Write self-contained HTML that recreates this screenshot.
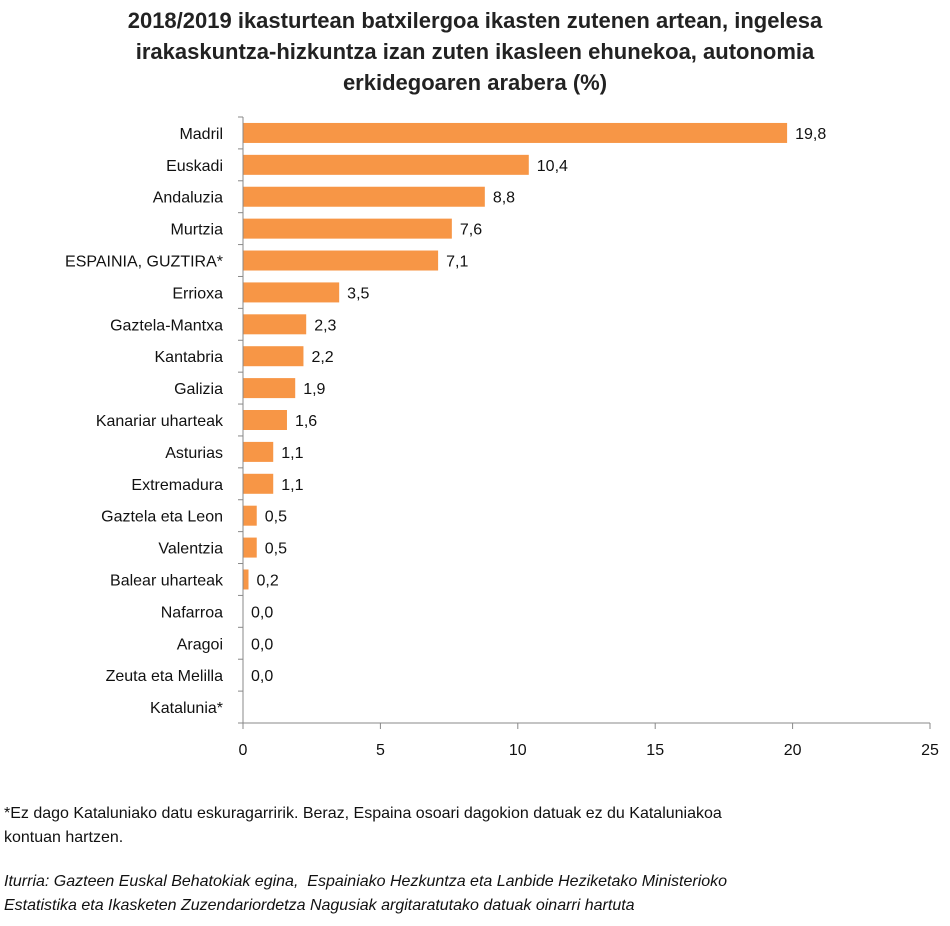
<!DOCTYPE html>
<html><head><meta charset="utf-8"><style>
body{margin:0;background:#fff;font-family:"Liberation Sans",sans-serif;}
#wrap{position:relative;width:950px;height:926px;overflow:hidden}
.title{position:absolute;left:0;width:950px;top:5px;text-align:center;font-weight:bold;font-size:22px;line-height:31px;color:#222}
.note{position:absolute;left:4px;font-size:16px;line-height:24px;color:#111}
</style></head><body>
<div id="wrap">
<div class="title">2018/2019 ikasturtean batxilergoa ikasten zutenen artean, ingelesa<br>irakaskuntza-hizkuntza izan zuten ikasleen ehunekoa, autonomia<br>erkidegoaren arabera (%)</div>
<svg id="svg" width="950" height="780" style="position:absolute;left:0;top:0"></svg>
<div class="note" style="top:802px">*Ez dago Kataluniako datu eskuragarririk. Beraz, Espaina osoari dagokion datuak ez du Kataluniakoa<br>kontuan hartzen.</div>
<div class="note" style="top:870px;font-style:italic">Iturria: Gazteen Euskal Behatokiak egina,&nbsp; Espainiako Hezkuntza eta Lanbide Heziketako Ministerioko<br>Estatistika eta Ikasketen Zuzendariordetza Nagusiak argitaratutako datuak oinarri hartuta</div>
</div>
<script>
const categories=["Madril","Euskadi","Andaluzia","Murtzia","ESPAINIA, GUZTIRA*","Errioxa","Gaztela-Mantxa","Kantabria","Galizia","Kanariar uharteak","Asturias","Extremadura","Gaztela eta Leon","Valentzia","Balear uharteak","Nafarroa","Aragoi","Zeuta eta Melilla","Katalunia*"];
const values=[19.8,10.4,8.8,7.6,7.1,3.5,2.3,2.2,1.9,1.6,1.1,1.1,0.5,0.5,0.2,0.0,0.0,0.0,null];
const ticks=[0,5,10,15,20,25];
const svg=document.getElementById('svg');const NS='http://www.w3.org/2000/svg';
const x0=243,x1=930,y0=117,bot=723,max=25;
const xs=v=>x0+(x1-x0)*v/max;const step=(bot-y0)/categories.length;
function mk(t,a,p){const e=document.createElementNS(NS,t);for(const k in a)e.setAttribute(k,a[k]);(p||svg).appendChild(e);return e;}
categories.forEach((c,i)=>{const cy=y0+step*(i+0.5);
 const t=mk('text',{x:x0-20,y:cy+6,'text-anchor':'end','font-size':'16','fill':'#111','font-family':'Liberation Sans'});t.textContent=c;
 
 
 const v=values[i];
 if(v!==null){const r=mk('rect',{x:x0,y:cy-10,width:Math.max(0,xs(v)-x0),height:20,fill:'#F79646'});
  
  
  const l=mk('text',{x:xs(v)+8,y:cy+6,'font-size':'16','fill':'#111','font-family':'Liberation Sans'});l.textContent=v.toFixed(1).replace('.',',');
  
  }
});
for(let i=0;i<=categories.length;i++){const y=y0+step*i;const tk=mk('line',{x1:x0-5,x2:x0,y1:y,y2:y,stroke:'#888'});

}
const ya=mk('line',{x1:x0,x2:x0,y1:y0,y2:bot,stroke:'#888'});


const xa=mk('line',{x1:x0,x2:x1,y1:bot,y2:bot,stroke:'#888'});


ticks.forEach(t=>{const x=xs(t);const tk=mk('line',{x1:x,x2:x,y1:bot,y2:bot+6,stroke:'#888'});
 
 
 const l=mk('text',{x:x,y:bot+32,'text-anchor':'middle','font-size':'16','fill':'#111','font-family':'Liberation Sans'});l.textContent=t;
 
 });
</script>
</body></html>
